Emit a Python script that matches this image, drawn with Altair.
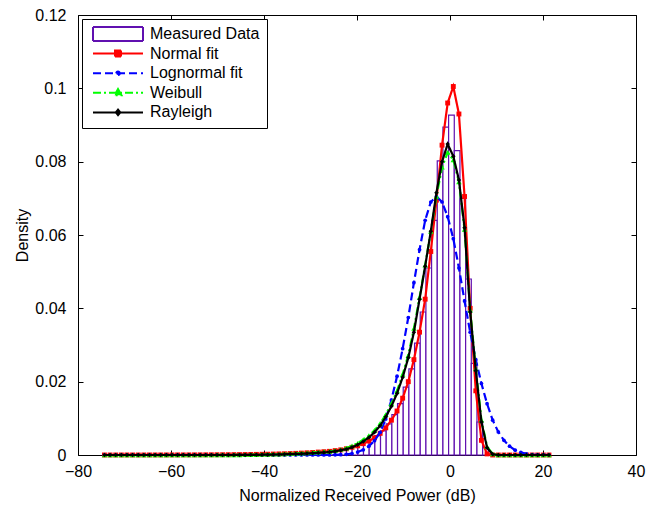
import altair as alt
import pandas as pd

# ---------------- data ----------------
series_names = ["Measured Data", "Normal fit", "Lognormal fit", "Weibull", "Rayleigh"]

# evaluation points of the fitted curves (dB)
x_pts = [-74.31, -73.10, -71.89, -70.68, -69.47, -68.26, -67.05, -65.84, -64.63, -63.42,
         -62.21, -61.00, -59.79, -58.58, -57.37, -56.16, -54.95, -53.74, -52.53, -51.32,
         -50.11, -48.90, -47.69, -46.48, -45.27, -44.06, -42.85, -41.64, -40.43, -39.22,
         -38.01, -36.80, -35.59, -34.38, -33.17, -31.96, -30.75, -29.54, -28.33, -27.12,
         -25.91, -24.70, -23.49, -22.28, -21.07, -19.86, -18.65, -17.44, -16.23, -15.02,
         -13.81, -12.60, -11.39, -10.18, -8.97, -7.76, -6.55, -5.34, -4.13, -2.92,
         -1.71, -0.50, 0.71, 1.92, 3.13, 4.34, 5.55, 6.76, 7.97, 9.18,
         10.39, 11.60, 12.81, 14.02, 15.23, 16.44, 17.65, 18.86, 20.07, 21.28]

normal_fit = [0.000004, 0.000005, 0.000006, 0.000007, 0.000008, 0.000009, 0.00001, 0.000012, 0.000014, 0.000016,
              0.000018, 0.00002, 0.000023, 0.000026, 0.00003, 0.000034, 0.000039, 0.000045, 0.00005, 0.000058,
              0.000066, 0.000075, 0.000086, 0.0001, 0.00011, 0.00013, 0.00015, 0.00017, 0.0002, 0.00022,
              0.00026, 0.0003, 0.00034, 0.00039, 0.00045, 0.00052, 0.0006, 0.0007, 0.0008, 0.0009,
              0.0010, 0.0012, 0.0014, 0.0017, 0.0021, 0.0025, 0.0031, 0.0038, 0.0047, 0.0059,
              0.0074, 0.0095, 0.0120, 0.0155, 0.0200, 0.0260, 0.0335, 0.0425, 0.0555, 0.0695,
              0.0845, 0.0960, 0.1005, 0.0930, 0.0705, 0.0400, 0.0175, 0.0040, 0.0003, 0.0,
              0.0, 0.0, 0.0, 0.0, 0.0, 0.0, 0.0, 0.0, 0.0, 0.0]

lognormal_fit = [0.0, 0.0, 0.0, 0.0, 0.0, 0.0, 0.0, 0.0, 0.0, 0.0,
                 0.0, 0.0, 0.0, 0.0, 0.0, 0.0, 0.0, 0.0, 0.0, 0.0,
                 0.0, 0.0, 0.0, 0.0, 0.0, 0.0, 0.0, 0.0, 0.0, 0.0,
                 0.0, 0.0, 0.0, 0.0, 0.0, 0.0, 0.0, 0.0, 0.0, 0.0,
                 0.00002, 0.00005, 0.0001, 0.0002, 0.0004, 0.0008, 0.0014, 0.0024, 0.0039, 0.0062,
                 0.0098, 0.0150, 0.0215, 0.0290, 0.0375, 0.0470, 0.0560, 0.0640, 0.0690, 0.0705,
                 0.0690, 0.0650, 0.0590, 0.0510, 0.0420, 0.0335, 0.0260, 0.0195, 0.0140, 0.0095,
                 0.0063, 0.0040, 0.0024, 0.0013, 0.0007, 0.0003, 0.0001, 0.00005, 0.00002, 0.0]

weibull_fit = [0.0, 0.0, 0.0, 0.0, 0.0, 0.0, 0.0, 0.0, 0.0, 0.0,
               0.0, 0.0, 0.0, 0.0, 0.0, 0.0, 0.0, 0.0, 0.0, 0.0,
               0.00002, 0.00003, 0.00004, 0.00005, 0.00006, 0.00008, 0.0001, 0.00012, 0.00015, 0.00018,
               0.00022, 0.00027, 0.00032, 0.00038, 0.00045, 0.00052, 0.0006, 0.0007, 0.0008, 0.0009,
               0.0010, 0.0012, 0.0015, 0.0019, 0.0025, 0.0032, 0.0042, 0.0053, 0.0067, 0.0086,
               0.0110, 0.0140, 0.0175, 0.0220, 0.0272, 0.0345, 0.0430, 0.0518, 0.0610, 0.0705,
               0.0785, 0.0825, 0.0805, 0.0745, 0.0615, 0.0395, 0.0235, 0.0095, 0.0023, 0.0003,
               0.0, 0.0, 0.0, 0.0, 0.0, 0.0, 0.0, 0.0, 0.0, 0.0]

rayleigh_fit = [0.0, 0.0, 0.0, 0.0, 0.0, 0.0, 0.0, 0.0, 0.0, 0.0,
                0.0, 0.0, 0.0, 0.0, 0.0, 0.0, 0.0, 0.0, 0.0, 0.0,
                0.0, 0.0, 0.0, 0.0, 0.00002, 0.00003, 0.00004, 0.00005, 0.00007, 0.00009,
                0.00012, 0.00015, 0.0002, 0.00025, 0.0003, 0.00035, 0.0004, 0.0005, 0.0006, 0.0007,
                0.0008, 0.0010, 0.0013, 0.0016, 0.0021, 0.0028, 0.0037, 0.0048, 0.0062, 0.0080,
                0.0104, 0.0133, 0.0168, 0.0212, 0.0265, 0.0335, 0.0425, 0.0515, 0.0610, 0.0715,
                0.0800, 0.0848, 0.0815, 0.0750, 0.0620, 0.0390, 0.0230, 0.0090, 0.0020, 0.0002,
                0.0, 0.0, 0.0, 0.0, 0.0, 0.0, 0.0, 0.0, 0.0, 0.0]

# histogram of the measured data: bin edges (dB) and densities
hist_edges = [-40.56, -39.34, -38.12, -36.90, -35.68, -34.46, -33.24, -32.02, -30.80, -29.58,
              -28.36, -27.14, -25.92, -24.70, -23.48, -22.26, -21.04, -19.82, -18.60, -17.38,
              -16.16, -14.94, -13.72, -12.50, -11.28, -10.06, -8.84, -7.62, -6.40, -5.18,
              -3.96, -2.74, -1.52, -0.30, 0.92, 2.14, 3.36, 4.58, 5.80, 7.02,
              8.24, 9.46]
hist_density = [0.0001, 0.0002, 0.0002, 0.0002, 0.0003, 0.0003, 0.0004, 0.0005, 0.0006, 0.0007,
                0.0008, 0.0009, 0.0011, 0.0013, 0.0016, 0.0019, 0.0023, 0.0028, 0.0035, 0.0043,
                0.0053, 0.0066, 0.0085, 0.0110, 0.0140, 0.0185, 0.0235, 0.0305, 0.0390, 0.0510,
                0.0640, 0.0802, 0.0894, 0.0927, 0.0830, 0.0700, 0.0480, 0.0250, 0.0090, 0.0020,
                0.0002]

x_ticks = [-80, -60, -40, -20, 0, 20, 40]
y_ticks = [0, 0.02, 0.04, 0.06, 0.08, 0.1, 0.12]
y_tick_labels = ["0", "0.02", "0.04", "0.06", "0.08", "0.1", "0.12"]

# ---------------- styling ----------------
FONT = "Liberation Sans"
PURPLE = "#6010B0"
RED = "#FF0000"
BLUE = "#0000FF"
GREEN = "#00FF00"
BLACK = "#000000"

fits = pd.DataFrame({"x": x_pts, "normal": normal_fit, "lognormal": lognormal_fit,
                     "weibull": weibull_fit, "rayleigh": rayleigh_fit})
hist = pd.DataFrame({"left": hist_edges[:-1], "right": hist_edges[1:],
                     "density": hist_density, "base": [0.0] * len(hist_density)})

xs = alt.Scale(domain=[-80, 40], nice=False, zero=False)
ys = alt.Scale(domain=[0, 0.12], nice=False)

common_tick = dict(offset=-5, tickSize=5, tickColor="black", tickWidth=1,
                   domain=False, grid=False)

# label text for the y ticks, looked up by tick index
y_label_expr = "[" + ",".join(f"'{s}'" for s in y_tick_labels) + "][round(datum.value*50)]"

x_bottom = alt.Axis(values=x_ticks, orient="bottom", labelFont=FONT, labelFontSize=16,
                    labelColor="black", labelPadding=8, labelFlush=False, labelOverlap=False,
                    title="Normalized Received Power (dB)", titleFont=FONT, titleFontSize=16,
                    titleFontWeight="normal", titleColor="black", titlePadding=8, **common_tick)
y_left = alt.Axis(values=y_ticks, orient="left", labelExpr=y_label_expr, labelFont=FONT,
                  labelFontSize=16, labelColor="black", labelPadding=12, labelOverlap=False,
                  title="Density", titleFont=FONT, titleFontSize=16, titleFontWeight="normal",
                  titleColor="black", titlePadding=4, **common_tick)
x_top = alt.Axis(values=x_ticks, orient="top", labels=False, title=None, **common_tick)
y_right = alt.Axis(values=y_ticks, orient="right", labels=False, title=None, **common_tick)

bars = alt.Chart(hist).mark_bar(fill="white", stroke=PURPLE, strokeWidth=1.2).encode(
    x=alt.X("left:Q", scale=xs, axis=x_bottom),
    x2="right:Q",
    y=alt.Y("density:Q", scale=ys, axis=y_left),
    y2="base:Q",
)

def curve(field, color, dash, shape, size, axes=False):
    xa = x_top if axes else None
    ya = y_right if axes else None
    line = alt.Chart(fits).mark_line(color=color, strokeWidth=2.2, strokeDash=dash).encode(
        x=alt.X("x:Q", scale=xs, axis=xa),
        y=alt.Y(f"{field}:Q", scale=ys, axis=ya),
    )
    pts = alt.Chart(fits).mark_point(shape=shape, filled=True, fill=color, size=size,
                                     strokeWidth=0, opacity=1).encode(
        x=alt.X("x:Q", scale=xs, axis=None),
        y=alt.Y(f"{field}:Q", scale=ys, axis=None),
    )
    return [line, pts]

layers = [bars]
layers += curve("normal", RED, [1, 0], "square", 24)
layers += curve("lognormal", BLUE, [8, 4], "circle", 14)
layers += curve("weibull", GREEN, [8, 3, 2, 3], "triangle-up", 30)
layers += curve("rayleigh", BLACK, [1, 0], "diamond", 20, axes=True)

# legend (built from scales only; the layer itself draws nothing)
legend_shapes = [
    "M-1,-0.28H1V0.28H-1Z",
    "M-1,0H1M-0.12,-0.12H0.12V0.12H-0.12Z",
    "M-1,0H1M-0.07,0A0.07,0.07,0,1,1,0.07,0A0.07,0.07,0,1,1,-0.07,0Z",
    "M-1,0H1M0,-0.15L0.14,0.1L-0.14,0.1Z",
    "M-1,0H1M0,-0.11L0.09,0L0,0.11L-0.09,0Z",
]
fill_range = ["white", RED, BLUE, GREEN, BLACK]
stroke_range = [PURPLE, RED, BLUE, GREEN, BLACK]
dash_range = [[1, 0], [1, 0], [8, 4], [8, 3, 2, 3], [1, 0]]

def lg():
    return alt.Legend(title=None, orient="none", legendX=4, legendY=4)

legend_df = pd.DataFrame({"series": series_names})
legend_layer = alt.Chart(legend_df).mark_point(filled=True, strokeWidth=2, opacity=1).encode(
    fill=alt.Fill("series:N", scale=alt.Scale(domain=series_names, range=fill_range), legend=lg()),
    stroke=alt.Stroke("series:N", scale=alt.Scale(domain=series_names, range=stroke_range), legend=lg()),
    shape=alt.Shape("series:N", scale=alt.Scale(domain=series_names, range=legend_shapes), legend=lg()),
    strokeDash=alt.StrokeDash("series:N", scale=alt.Scale(domain=series_names, range=dash_range), legend=lg()),
).transform_filter("false")
layers.append(legend_layer)

chart = alt.layer(*layers).resolve_axis(
    x="independent", y="independent"
).properties(
    width=558, height=440,
    padding={"left": 78, "top": 15, "right": 21, "bottom": 54},
    autosize=alt.AutoSizeParams(type="none"),
    background="white",
).configure(font=FONT).configure_view(
    stroke="black", strokeWidth=1
).configure_legend(
    padding=7, strokeColor="black", fillColor="white", cornerRadius=0,
    labelFont=FONT, labelFontSize=16, labelColor="black", labelLimit=300,
    symbolSize=2500, symbolStrokeWidth=2, clipHeight=16, rowPadding=3.6,
    labelOffset=6, symbolOffset=3,
)

chart.save("out.html", embed_options={"renderer": "svg", "actions": False})
